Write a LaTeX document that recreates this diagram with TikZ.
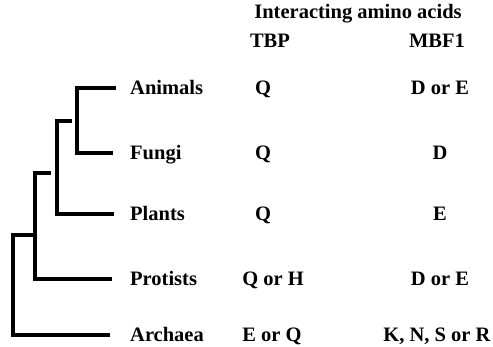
\documentclass[tikz,border=0pt]{standalone}
\usepackage{fontspec}
\setmainfont{Liberation Serif}
\begin{document}
\begin{tikzpicture}[x=1pt,y=-1pt,
  txt/.style={font=\fontsize{20.5}{24}\selectfont\bfseries, inner sep=0pt, anchor=base},
  lab/.style={txt, anchor=base west},
  branch/.style={line width=3.2pt, line cap=butt}]
\useasboundingbox (0,0) rectangle (493,347);
% headers
\node[txt] (title) at (358,19) {Interacting amino acids};
\node[txt] (tbp) at (270,48) {TBP};
\node[txt] (mbf) at (437,48) {MBF1};
% taxa labels
\node[lab] (an) at (130,95) {Animals};
\node[lab] (fu) at (130,160) {Fungi};
\node[lab] (pl) at (130,221) {Plants};
\node[lab] (pr) at (130,286) {Protists};
\node[lab] (ar) at (130,342) {Archaea};
% TBP column
\node[txt] (t1) at (263,95) {Q};
\node[txt] (t2) at (263,160) {Q};
\node[txt] (t3) at (263,221) {Q};
\node[txt] (t4) at (273,286) {Q or H};
\node[txt] (t5) at (272,342) {E or Q};
% MBF1 column
\node[txt] (m1) at (440,95) {D or E};
\node[txt] (m2) at (440,160) {D};
\node[txt] (m3) at (440,221) {E};
\node[txt] (m4) at (440,286) {D or E};
\node[txt] (m5) at (437,342) {K, N, S or R};
% tree coordinates
\coordinate (a1) at (116,88);
\coordinate (f1) at (113,153);
\coordinate (p1) at (114,214);
\coordinate (r1) at (112,279);
\coordinate (h1) at (110,335);
\coordinate (v1t) at (77,88);
\coordinate (v1b) at (77,153);
\coordinate (s1a) at (57,121);
\coordinate (s1b) at (72,121);
\coordinate (v2b) at (57,214);
\coordinate (s2a) at (35,173);
\coordinate (s2b) at (51,173);
\coordinate (v3b) at (35,279);
\coordinate (s3a) at (13,235);
\coordinate (s3b) at (35,235);
\coordinate (v4b) at (13,335);
% tree
\draw[branch] (a1) -- (v1t) -- (v1b) -- (f1);
\draw[branch] (s1b) -- (s1a) -- (v2b) -- (p1);
\draw[branch] (s2b) -- (s2a) -- (v3b) -- (r1);
\draw[branch] (s3b) -- (s3a) -- (v4b) -- (h1);
\end{tikzpicture}
\end{document}
